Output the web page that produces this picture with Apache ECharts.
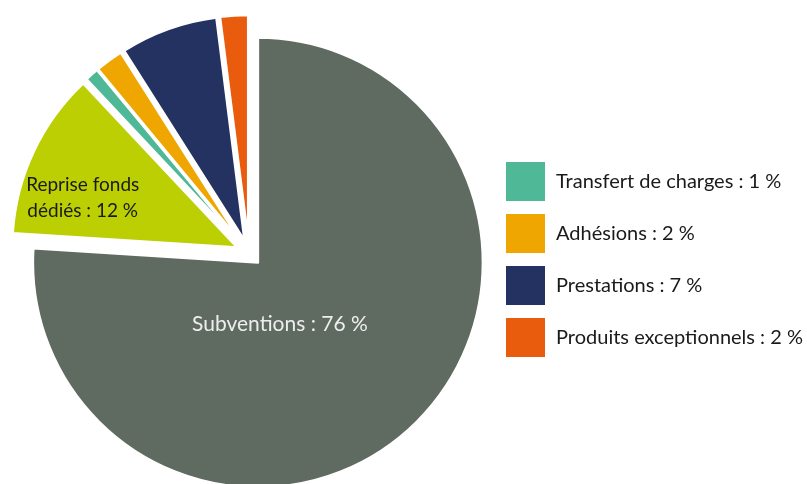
<!DOCTYPE html>
<html>
<head>
<meta charset="utf-8">
<script src="https://cdn.jsdelivr.net/npm/echarts@6/dist/echarts.min.js"></script>
<style>
  html, body { margin: 0; padding: 0; background: #fff; }
  #main { width: 807px; height: 484px; }
</style>
</head>
<body>
<div id="main"></div>
<script>
// parts of the resources (in %), clockwise from 12 o'clock
var names = ['Subventions', 'Reprise fonds dédiés', 'Transfert de charges', 'Adhésions', 'Prestations', 'Produits exceptionnels'];
var values = [76, 12, 1, 2, 7, 2];
var colors = ['#5f6a60', '#bccf02', '#4fb897', '#f0a600', '#243262', '#e95b0d'];
// slices pulled out of the pie
var exploded = [true, true, true, true, true, true];
// which slices get a label inside, the others go to the legend
var insideLabels = ['Subventions : 76 %', 'Reprise fonds\ndédiés : 12 %', '', '', '', ''];
var legendNames = names.slice(2);

var chart = echarts.init(document.getElementById('main'), null, { renderer: 'canvas' });

var pieData = names.map(function (n, i) {
    return {
        name: n,
        value: values[i],
        selected: exploded[i],
        itemStyle: { color: colors[i] },
        label: {
            show: insideLabels[i] !== '',
            color: i === 0 ? '#eeeeee' : '#1a1a1a',
            fontSize: i === 0 ? 21 : 19
        }
    };
});

var option = {
    animation: false,
    legend: {
        data: legendNames,
        orient: 'vertical',
        left: 506,
        top: 162,
        padding: 0,
        icon: 'rect',
        itemWidth: 39,
        itemHeight: 39,
        itemGap: 13,
        selectedMode: false,
        itemStyle: { borderWidth: 0 },
        textStyle: {
            fontFamily: 'Lato',
            fontSize: 20,
            color: '#1a1a1a',
            padding: [0, 0, 0, 6]
        },
        formatter: function (name) {
            return name + ' : ' + values[names.indexOf(name)] + ' %';
        }
    },
    series: [
        {
            type: 'pie',
            center: [249, 253],
            radius: 225,
            startAngle: 90,
            clockwise: true,
            selectedMode: 'multiple',
            selectedOffset: 13,
            emphasis: { disabled: true },
            itemStyle: { borderColor: '#ffffff', borderWidth: 2.5 },
            label: {
                position: 'inner',
                fontFamily: 'Lato',
                lineHeight: 26,
                formatter: function (p) {
                    return insideLabels[p.dataIndex];
                }
            },
            labelLine: { show: false },
            labelLayout: function (p) {
                if (p.dataIndex === 0) {
                    return { dx: -57, dy: -22 };
                }
                if (p.dataIndex === 1) {
                    return { dx: -50, dy: 0 };
                }
                return {};
            },
            data: pieData
        }
    ]
};
chart.setOption(option);
</script>
</body>
</html>
